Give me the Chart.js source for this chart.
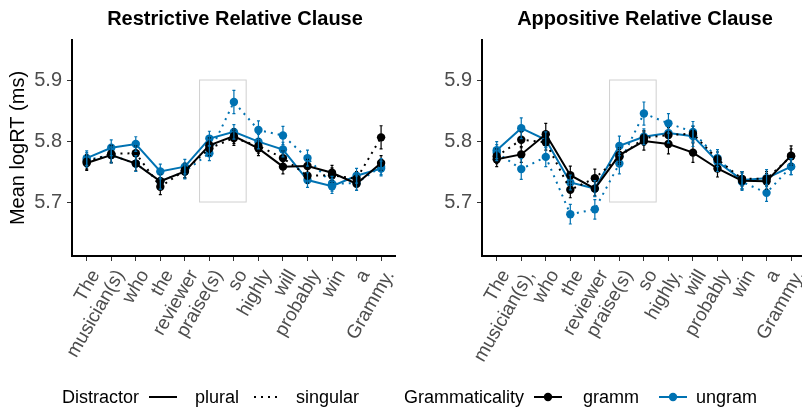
<!DOCTYPE html>
<html>
<head>
<meta charset="utf-8">
<script src="https://cdn.jsdelivr.net/npm/chart.js@4.4.1/dist/chart.umd.min.js"></script>
<style>
    html, body { margin: 0; padding: 0; background: #fff; overflow: hidden; }
    #wrap { position: relative; width: 802px; height: 409px; overflow: hidden; font-family: "Liberation Sans", Arial, sans-serif; }
    .panel { position: absolute; top: 0; width: 400px; height: 409px; }
    .ptitle { position: absolute; top: 6px; font-weight: bold; font-size: 20px; line-height: 24px; transform: translateX(-50%); white-space: nowrap; color: #000; }
    .leg { position: absolute; top: 386px; font-size: 18px; line-height: 22px; white-space: nowrap; color: #000; }
    .key { position: absolute; top: 386px; }
</style>
</head>
<body>
<div id="wrap">
    <canvas id="restrictive" class="panel" width="400" height="409" style="left:0"></canvas>
    <canvas id="appositive" class="panel" width="400" height="409" style="left:410px"></canvas>
    <div class="ptitle" style="left:235px">Restrictive Relative Clause</div>
    <div class="ptitle" style="left:645px">Appositive Relative Clause</div>

    <div class="leg" style="left:62px">Distractor</div>
    <svg class="key" style="left:148px" width="30" height="22"><line x1="1" y1="11" x2="29" y2="11" stroke="#000" stroke-width="2"/></svg>
    <div class="leg" style="left:195px">plural</div>
    <svg class="key" style="left:253px" width="30" height="22"><line x1="1" y1="11" x2="29" y2="11" stroke="#000" stroke-width="2" stroke-dasharray="2 5"/></svg>
    <div class="leg" style="left:296px">singular</div>
    <div class="leg" style="left:404px">Grammaticality</div>
    <svg class="key" style="left:533px" width="30" height="22"><line x1="1" y1="11" x2="29" y2="11" stroke="#000" stroke-width="2"/><circle cx="15" cy="11" r="4.2" fill="#000"/></svg>
    <div class="leg" style="left:583px">gramm</div>
    <svg class="key" style="left:658px" width="30" height="22"><line x1="1" y1="11" x2="29" y2="11" stroke="#0072B2" stroke-width="2"/><circle cx="15" cy="11" r="4.2" fill="#0072B2"/></svg>
    <div class="leg" style="left:696px">ungram</div>
</div>
<script>
    // words on the x axis
    const restrictiveWords = ['The', 'musician(s)', 'who', 'the', 'reviewer', 'praise(s)', 'so', 'highly', 'will', 'probably', 'win', 'a', 'Grammy.'];
    const appositiveWords = ['The', 'musician(s),', 'who', 'the', 'reviewer', 'praise(s)', 'so', 'highly,', 'will', 'probably', 'win', 'a', 'Grammy.'];
    const yTicks = [5.7, 5.8, 5.9];

    // Restrictive relative clause: mean logRT per word
    const rcGrammPlural     = [5.764, 5.777, 5.763, 5.734, 5.750, 5.793, 5.808, 5.788, 5.758, 5.759, 5.748, 5.730, 5.764];
    const rcGrammSingular   = [5.766, 5.779, 5.780, 5.725, 5.752, 5.788, 5.805, 5.792, 5.772, 5.743, 5.744, 5.738, 5.806];
    const rcUngramPlural    = [5.772, 5.789, 5.795, 5.750, 5.758, 5.804, 5.815, 5.799, 5.786, 5.736, 5.726, 5.743, 5.755];
    const rcUngramSingular  = [5.769, 5.777, 5.763, 5.734, 5.750, 5.780, 5.864, 5.818, 5.809, 5.772, 5.730, 5.731, 5.758];
    // standard errors
    const rcGrammPluralSe    = [0.012, 0.013, 0.012, 0.012, 0.011, 0.012, 0.012, 0.012, 0.012, 0.011, 0.012, 0.011, 0.012];
    const rcGrammSingularSe  = [0.012, 0.014, 0.012, 0.013, 0.012, 0.012, 0.012, 0.012, 0.012, 0.012, 0.012, 0.012, 0.019];
    const rcUngramPluralSe   = [0.012, 0.013, 0.012, 0.012, 0.012, 0.012, 0.012, 0.012, 0.012, 0.012, 0.012, 0.012, 0.012];
    const rcUngramSingularSe = [0.012, 0.013, 0.013, 0.013, 0.012, 0.012, 0.019, 0.015, 0.015, 0.013, 0.012, 0.012, 0.013];

    // Appositive relative clause
    const arGrammPlural     = [5.770, 5.778, 5.811, 5.744, 5.722, 5.777, 5.800, 5.795, 5.781, 5.755, 5.735, 5.734, 5.776];
    const arGrammSingular   = [5.775, 5.802, 5.798, 5.720, 5.739, 5.774, 5.805, 5.810, 5.812, 5.770, 5.738, 5.738, 5.775];
    const arUngramPlural    = [5.785, 5.821, 5.802, 5.732, 5.722, 5.792, 5.807, 5.813, 5.808, 5.766, 5.736, 5.739, 5.758];
    const arUngramSingular  = [5.781, 5.754, 5.774, 5.680, 5.688, 5.763, 5.845, 5.829, 5.815, 5.772, 5.733, 5.715, 5.758];
    const arGrammPluralSe    = [0.012, 0.013, 0.018, 0.015, 0.012, 0.012, 0.015, 0.016, 0.016, 0.014, 0.014, 0.013, 0.016];
    const arGrammSingularSe  = [0.012, 0.013, 0.013, 0.013, 0.015, 0.012, 0.012, 0.012, 0.012, 0.012, 0.012, 0.012, 0.012];
    const arUngramPluralSe   = [0.014, 0.017, 0.013, 0.012, 0.013, 0.016, 0.013, 0.016, 0.017, 0.016, 0.014, 0.014, 0.013];
    const arUngramSingularSe = [0.013, 0.017, 0.016, 0.016, 0.016, 0.017, 0.019, 0.016, 0.017, 0.014, 0.014, 0.014, 0.013];

    // highlighted region around praise(s) / so
    const regionX = [5.6, 7.5];
    const regionY = [5.7, 5.9];

    const BLACK = '#000000';
    const BLUE = '#0072B2';
    Chart.defaults.font.family = '"Liberation Sans", Arial, sans-serif';

    function makeDataset(values, se, color, dotted) {
        return {
            data: values.map((v, i) => ({ x: i + 1, y: v })),
            se: se,
            borderColor: color,
            backgroundColor: color,
            borderWidth: 2,
            borderDash: dotted ? [2, 5] : [],
            tension: 0,
            pointRadius: 4.2,
            pointBorderWidth: 0,
            pointBackgroundColor: color
        };
    }

    const errorBars = {
        id: 'errorBars',
        afterDatasetsDraw(chart) {
            const { ctx, scales: { x, y } } = chart;
            ctx.save();
            ctx.lineWidth = 1.2;
            chart.data.datasets.forEach(ds => {
                ctx.strokeStyle = ds.borderColor;
                ds.data.forEach((p, i) => {
                    const px = x.getPixelForValue(p.x);
                    const top = y.getPixelForValue(p.y + ds.se[i]);
                    const bot = y.getPixelForValue(p.y - ds.se[i]);
                    ctx.beginPath();
                    ctx.moveTo(px, top);
                    ctx.lineTo(px, bot);
                    ctx.moveTo(px - 1.5, top);
                    ctx.lineTo(px + 1.5, top);
                    ctx.moveTo(px - 1.5, bot);
                    ctx.lineTo(px + 1.5, bot);
                    ctx.stroke();
                });
            });
            ctx.restore();
        }
    };

    const regionBox = {
        id: 'regionBox',
        beforeDatasetsDraw(chart) {
            const { ctx, scales: { x, y } } = chart;
            const x0 = x.getPixelForValue(regionX[0]);
            const x1 = x.getPixelForValue(regionX[1]);
            const y0 = y.getPixelForValue(regionY[1]);
            const y1 = y.getPixelForValue(regionY[0]);
            ctx.save();
            ctx.strokeStyle = '#d0d0d0';
            ctx.lineWidth = 1;
            ctx.strokeRect(x0, y0, x1 - x0, y1 - y0);
            ctx.restore();
        }
    };

    function buildChart(canvasId, words, series, showTitle) {
        const ctx = document.getElementById(canvasId).getContext('2d');
        return new Chart(ctx, {
            type: 'line',
            data: {
                datasets: [
                    makeDataset(series[0], series[1], BLACK, false),
                    makeDataset(series[2], series[3], BLACK, true),
                    makeDataset(series[4], series[5], BLUE, false),
                    makeDataset(series[6], series[7], BLUE, true)
                ]
            },
            options: {
                responsive: false,
                animation: false,
                layout: { padding: { top: 40, right: 2, left: 0, bottom: 0 } },
                plugins: {
                    legend: { display: false },
                    tooltip: { enabled: false }
                },
                scales: {
                    x: {
                        type: 'linear',
                        min: 0.4,
                        max: 13.6,
                        afterBuildTicks: scale => {
                            scale.ticks = words.map((w, i) => ({ value: i + 1 }));
                        },
                        afterFit: scale => {
                            scale.height = 153;
                            scale.paddingLeft = 0;
                            scale.paddingRight = 0;
                        },
                        ticks: {
                            autoSkip: false,
                            maxRotation: 60,
                            minRotation: 60,
                            padding: 5,
                            labelOffset: 9,
                            color: '#4d4d4d',
                            font: { size: 19 },
                            callback: value => words[value - 1]
                        },
                        grid: { display: true, drawOnChartArea: false, tickLength: 5, color: '#333' },
                        border: { display: true, color: '#000', width: 2 }
                    },
                    y: {
                        type: 'linear',
                        min: 5.6115,
                        max: 5.9656,
                        afterBuildTicks: scale => {
                            scale.ticks = yTicks.map(v => ({ value: v }));
                        },
                        afterFit: scale => {
                            scale.width = 72;
                            scale.paddingTop = 0;
                            scale.paddingBottom = 0;
                        },
                        ticks: {
                            padding: 5,
                            color: '#4d4d4d',
                            font: { size: 20 },
                            callback: value => value.toFixed(1)
                        },
                        title: {
                            display: showTitle,
                            text: 'Mean logRT (ms)',
                            color: '#000',
                            font: { size: 20 },
                            padding: { top: 6, bottom: 0 }
                        },
                        grid: { display: true, drawOnChartArea: false, tickLength: 5, color: '#333' },
                        border: { display: true, color: '#000', width: 2 }
                    }
                }
            },
            plugins: [regionBox, errorBars]
        });
    }

    buildChart('restrictive', restrictiveWords, [
        rcGrammPlural, rcGrammPluralSe, rcGrammSingular, rcGrammSingularSe,
        rcUngramPlural, rcUngramPluralSe, rcUngramSingular, rcUngramSingularSe
    ], true);

    buildChart('appositive', appositiveWords, [
        arGrammPlural, arGrammPluralSe, arGrammSingular, arGrammSingularSe,
        arUngramPlural, arUngramPluralSe, arUngramSingular, arUngramSingularSe
    ], false);
</script>
</body>
</html>
